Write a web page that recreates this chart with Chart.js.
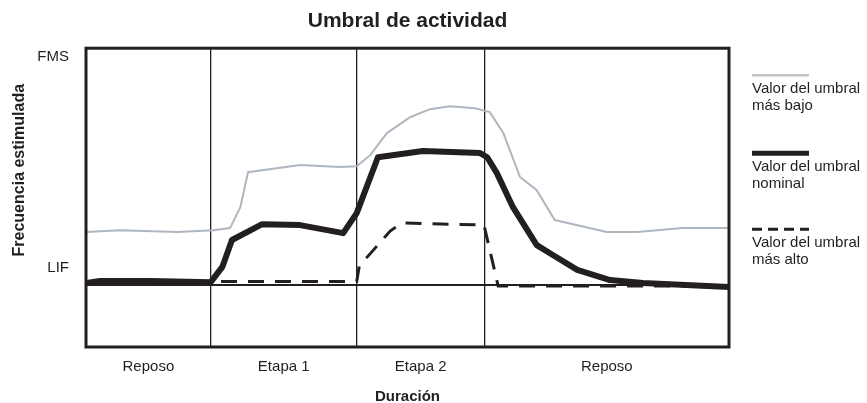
<!DOCTYPE html>
<html>
<head>
<meta charset="utf-8">
<script src="https://cdn.jsdelivr.net/npm/chart.js@4/dist/chart.umd.min.js"></script>
<style>
html,body{margin:0;padding:0;background:#fff;}
canvas{display:block;}
</style>
</head>
<body>
<canvas id="c" width="867" height="403"></canvas>
<script>
// ---- data (time in % of the test duration, frequency 0 = bottom, 100 = FMS) ----
const chartTitle = 'Umbral de actividad';
const xTitle = 'Duración';
const yTitle = 'Frecuencia estimulada';
const phaseNames = ['Reposo', 'Etapa 1', 'Etapa 2', 'Reposo'];
const phaseBounds = [0, 19.4, 42.1, 62.0, 100];
const yTickValues = [20.7, 100];
const yTickLabels = ['LIF', 'FMS'];

const lowTime  = [0, 5.3, 14.2, 19.8, 22.4, 24.0, 25.2, 33.3, 39.5, 42.1, 44.2, 46.8, 50.4, 53.5, 56.6, 60.5, 62.8, 64.9, 67.5, 70.1, 72.9, 81.0, 85.7, 92.8, 100];
const lowValue = [38.5, 39.1, 38.5, 39.1, 39.8, 46.8, 58.5, 60.9, 60.2, 60.5, 64.2, 71.6, 76.9, 79.6, 80.6, 79.9, 78.6, 71.6, 56.9, 52.5, 42.5, 38.5, 38.5, 39.8, 39.8];

const nomTime  = [0, 2.2, 10.0, 19.4, 21.2, 22.7, 27.4, 33.3, 40.0, 42.1, 45.4, 52.4, 61.3, 62.4, 63.9, 66.4, 70.1, 72.6, 76.4, 81.5, 86.6, 100];
const nomValue = [21.4, 22.1, 22.1, 21.7, 26.8, 35.8, 41.1, 40.8, 38.1, 44.8, 63.5, 65.6, 64.9, 63.5, 58.2, 46.8, 34.1, 30.8, 25.8, 22.4, 21.4, 20.1];

const highTime  = [0, 42.1, 42.5, 47.3, 49.1, 61.9, 64.1, 100];
const highValue = [21.9, 21.9, 27.1, 38.8, 41.5, 40.8, 20.4, 20.4];

const seriesLabels = [
  ['Valor del umbral', 'más bajo'],
  ['Valor del umbral', 'nominal'],
  ['Valor del umbral', 'más alto']
];

// ---- styling ----
const FONT = "'Liberation Sans', Arial, Helvetica, sans-serif";
const INK = '#231f20';
const GRAY = '#aeb6bf';

const toPts = (xs, ys) => xs.map((x, i) => ({x: x, y: ys[i]}));
const phaseCenters = phaseNames.map((n, i) => (phaseBounds[i] + phaseBounds[i + 1]) / 2);
const innerBounds = phaseBounds.slice(1, -1);

const decoPlugin = {
  id: 'deco',
  afterDatasetsDraw(chart) {
    const {ctx, chartArea: a} = chart;
    ctx.save();
    ctx.strokeStyle = INK;
    ctx.lineWidth = 3;
    ctx.strokeRect(a.left, a.top, a.right - a.left, a.bottom - a.top);
    ctx.restore();
  },
  afterDraw(chart) {
    const {ctx, chartArea: a, scales} = chart;
    const ys = scales.y;
    ctx.save();
    ctx.fillStyle = INK;
    // y tick labels
    ctx.font = '15px ' + FONT;
    ctx.textAlign = 'right';
    ctx.textBaseline = 'middle';
    yTickValues.forEach((v, i) => {
      const py = ys.getPixelForValue(v);
      const off = v === 100 ? 9 : -17;
      ctx.fillText(yTickLabels[i], a.left - 17, py + off);
    });
    // y title
    ctx.save();
    ctx.translate(20, a.top + 122);
    ctx.rotate(-Math.PI / 2);
    ctx.font = 'bold 16px ' + FONT;
    ctx.textAlign = 'center';
    ctx.fillText(yTitle, 0, 0);
    ctx.restore();
    // legend
    const lx = a.right + 23, lw = 57;
    const sampleY = [a.top + 27, a.top + 105, a.top + 181];
    const ds = chart.data.datasets;
    [0, 1, 2].forEach(i => {
      const d = ds[i];
      ctx.save();
      ctx.beginPath();
      ctx.strokeStyle = i === 0 ? '#c4c4c4' : INK;
      ctx.lineWidth = i === 1 ? 5 : (i === 0 ? 2.5 : 3);
      if (i === 2) ctx.setLineDash([10, 6]);
      ctx.moveTo(lx, sampleY[i]);
      ctx.lineTo(lx + lw, sampleY[i]);
      ctx.stroke();
      ctx.restore();
      ctx.font = '15px ' + FONT;
      ctx.textAlign = 'left';
      ctx.textBaseline = 'middle';
      d.legendLines.forEach((t, k) => ctx.fillText(t, lx, sampleY[i] + 14 + k * 17));
    });
    ctx.restore();
  }
};

new Chart(document.getElementById('c'), {
  type: 'line',
  data: {
    datasets: [
      {label: seriesLabels[0].join(' '), legendLines: seriesLabels[0], data: toPts(lowTime, lowValue),
       borderColor: GRAY, borderWidth: 2, pointRadius: 0, tension: 0, order: 3},
      {label: seriesLabels[1].join(' '), legendLines: seriesLabels[1], data: toPts(nomTime, nomValue),
       borderColor: INK, borderWidth: 6, pointRadius: 0, tension: 0, order: 1, borderJoinStyle: 'round'},
      {label: seriesLabels[2].join(' '), legendLines: seriesLabels[2], data: toPts(highTime, highValue),
       borderColor: INK, borderWidth: 3, borderDash: [16, 11], pointRadius: 0, tension: 0, order: 2}
    ]
  },
  options: {
    responsive: false,
    animation: false,
    devicePixelRatio: 1,
    layout: {padding: {left: 0, right: 138, top: 0, bottom: 0}},
    plugins: {
      legend: {display: false},
      tooltip: {enabled: false},
      title: {
        display: true, text: chartTitle, fullSize: false, color: INK,
        font: {family: FONT, size: 21, weight: 'bold'},
        padding: {top: 9, bottom: 14}
      }
    },
    scales: {
      x: {
        type: 'linear', min: 0, max: 100,
        afterBuildTicks(s) {
          const vals = phaseBounds.concat(phaseCenters).sort((p, q) => p - q);
          s.ticks = vals.map(v => ({value: v}));
        },
        afterFit(s) { s.height = 56; },
        ticks: {
          autoSkip: false, maxRotation: 0, padding: 11, color: INK,
          font: {family: FONT, size: 15},
          callback(v) {
            const i = phaseCenters.findIndex(c => Math.abs(c - v) < 1e-6);
            return i >= 0 ? phaseNames[i] : '';
          }
        },
        grid: {
          drawTicks: false, lineWidth: 1.3,
          color(c) {
            const v = c.tick ? c.tick.value : null;
            return innerBounds.some(b => Math.abs(b - v) < 1e-6) ? INK : 'rgba(0,0,0,0)';
          }
        },
        border: {display: false},
        title: {display: true, text: xTitle, color: INK, font: {family: FONT, size: 15, weight: 'bold'}, padding: {top: 0, bottom: -3}}
      },
      y: {
        type: 'linear', min: 0, max: 100,
        afterBuildTicks(s) { s.ticks = yTickValues.map(v => ({value: v})); },
        afterFit(s) { s.width = 86; },
        ticks: {display: false},
        grid: {
          drawTicks: false, lineWidth: 2,
          color(c) { return c.tick && c.tick.value === yTickValues[0] ? INK : 'rgba(0,0,0,0)'; }
        },
        border: {display: false}
      }
    }
  },
  plugins: [decoPlugin]
});
</script>
</body>
</html>
